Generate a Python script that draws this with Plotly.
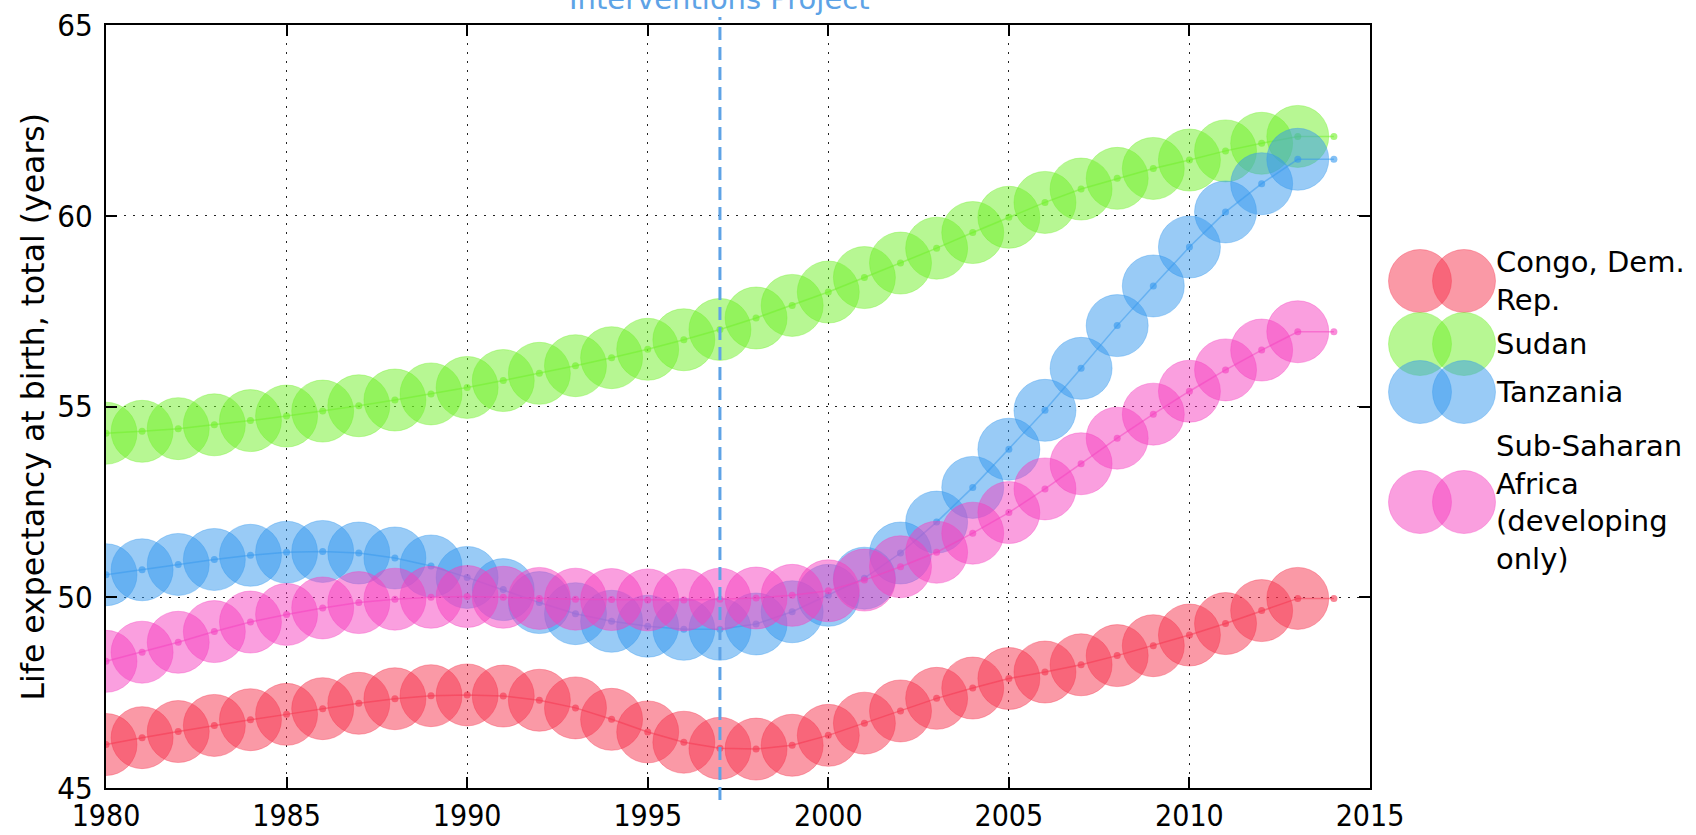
import plotly.graph_objects as go

# ---------------- data ----------------
years = list(range(1980, 2015))

congo = [46.14, 46.32, 46.48, 46.64, 46.79, 46.93, 47.08, 47.22, 47.34, 47.42,
         47.44, 47.41, 47.30, 47.10, 46.80, 46.47, 46.20, 46.04, 46.02, 46.12,
         46.38, 46.70, 47.02, 47.35, 47.62, 47.87, 48.04, 48.23, 48.47, 48.73,
         49.01, 49.31, 49.65, 49.97, 49.97]

sudan = [54.30, 54.35, 54.42, 54.52, 54.63, 54.75, 54.88, 55.02, 55.17, 55.33,
         55.50, 55.68, 55.87, 56.07, 56.28, 56.50, 56.75, 57.02, 57.32, 57.65,
         58.00, 58.38, 58.76, 59.15, 59.56, 59.96, 60.35, 60.70, 60.98, 61.24,
         61.46, 61.70, 61.90, 62.08, 62.08]

tanzania = [50.59, 50.72, 50.86, 50.99, 51.10, 51.18, 51.20, 51.16, 51.03, 50.82,
            50.52, 50.20, 49.86, 49.57, 49.37, 49.24, 49.16, 49.16, 49.30, 49.62,
            50.05, 50.50, 51.16, 51.97, 52.88, 53.88, 54.90, 56.00, 57.12, 58.16,
            59.18, 60.10, 60.84, 61.48, 61.48]

ssa = [48.32, 48.56, 48.82, 49.10, 49.35, 49.55, 49.72, 49.86, 49.95, 50.00,
       50.02, 50.00, 49.97, 49.95, 49.94, 49.93, 49.93, 49.95, 49.98, 50.05,
       50.17, 50.45, 50.80, 51.18, 51.68, 52.22, 52.84, 53.50, 54.17, 54.80,
       55.40, 55.96, 56.48, 56.96, 56.96]

names = ["Congo, Dem.<br>Rep.", "Sudan", "Tanzania",
         "Sub-Saharan<br>Africa<br>(developing<br>only)"]
series = [congo, sudan, tanzania, ssa]
colors = [(245, 52, 78), (112, 240, 40), (52, 152, 238), (245, 64, 192)]

x_ticks = [1980, 1985, 1990, 1995, 2000, 2005, 2010, 2015]
y_ticks = [45, 50, 55, 60, 65]
y_title = "Life expectancy at birth, total (years)"
intervention_year = 1997
intervention_text = "Interventions Project"

# ---------------- layout geometry ----------------
W, H = 1696, 835
L, R, T, B = 106, 326, 25, 47
plot_w = W - L - R
plot_h = H - T - B

def px_x(p):   # pixel column -> paper x
    return (p - L) / plot_w

def px_y(p):   # pixel row -> paper y
    return ((H - B) - p) / plot_h

def rgba(c, a):
    return f"rgba({c[0]},{c[1]},{c[2]},{a})"

fig = go.Figure()

for vals, col, nm in zip(series, colors, names):
    # big bubbles (all years but the last)
    fig.add_trace(go.Scatter(
        x=years[:-1], y=vals[:-1], mode="markers", name=nm, showlegend=False,
        marker=dict(size=62, color=rgba(col, 0.5),
                    line=dict(color=rgba(col, 0.35), width=1)),
        hoverinfo="skip"))
    # thin line with small dots
    fig.add_trace(go.Scatter(
        x=years, y=vals, mode="lines+markers", showlegend=False,
        line=dict(color=rgba(col, 0.5), width=1.5),
        marker=dict(size=7, color=rgba(col, 0.6)),
        hoverinfo="skip"))

shapes = []
annotations = []

# vertical dashed intervention line
shapes.append(dict(type="line", xref="x", yref="paper",
                   x0=intervention_year, x1=intervention_year,
                   y0=px_y(800), y1=px_y(17),
                   line=dict(color="#5ea3e6", width=3, dash="13px,7px")))
annotations.append(dict(text=intervention_text, xref="x", yref="paper",
                        x=intervention_year, y=px_y(18),
                        xanchor="center", yanchor="bottom", showarrow=False,
                        font=dict(family="DejaVu Sans", size=29, color="#5ea3e6")))

# y-axis title placed as rotated text
annotations.append(dict(text=y_title, xref="paper", yref="paper",
                        x=px_x(32), y=0.5, textangle=-90,
                        xanchor="center", yanchor="middle", showarrow=False,
                        font=dict(family="DejaVu Sans", size=31.5, color="black")))

# custom legend (double circles like matplotlib scatterpoints=2)
leg_centers_y = [281, 344, 392, 502]
for cy, col, nm in zip(leg_centers_y, colors, names):
    for cx in (1420, 1464):
        shapes.append(dict(type="circle", xref="paper", yref="paper",
                           xsizemode="pixel", ysizemode="pixel",
                           xanchor=px_x(cx), yanchor=px_y(cy),
                           x0=-31.5, x1=31.5, y0=-31.5, y1=31.5,
                           fillcolor=rgba(col, 0.5),
                           line=dict(color=rgba(col, 0.35), width=1),
                           layer="above"))
    annotations.append(dict(text=nm, xref="paper", yref="paper",
                            x=px_x(1494), y=px_y(cy),
                            xanchor="left", yanchor="middle", align="left",
                            showarrow=False,
                            font=dict(family="DejaVu Sans", size=29, color="black")))

axis_common = dict(showline=True, linecolor="black", linewidth=2, mirror="ticks",
                   ticks="inside", ticklen=11, tickwidth=1.5, tickcolor="black",
                   showgrid=True, gridcolor="#222222", gridwidth=1.2, griddash="2px,7px",
                   zeroline=False, automargin=False)

fig.update_layout(
    width=W, height=H,
    margin=dict(l=L, r=R, t=T, b=B),
    paper_bgcolor="white", plot_bgcolor="white",
    showlegend=False,
    shapes=shapes, annotations=annotations,
    xaxis=dict(range=[1980, 2015], tickvals=x_ticks, ticklabelstandoff=0,
               tickfont=dict(family="DejaVu Sans Condensed, DejaVu Sans",
                             size=30, color="black"),
               **axis_common),
    yaxis=dict(range=[45, 65], tickvals=y_ticks, ticklabelstandoff=5,
               tickfont=dict(family="DejaVu Sans Condensed, DejaVu Sans",
                             size=31, color="black"),
               **axis_common),
)

fig.write_html("out.html",
               config={"displayModeBar": False},
               post_script="document.body.style.margin='0';"
                           "document.body.style.overflow='hidden';")
